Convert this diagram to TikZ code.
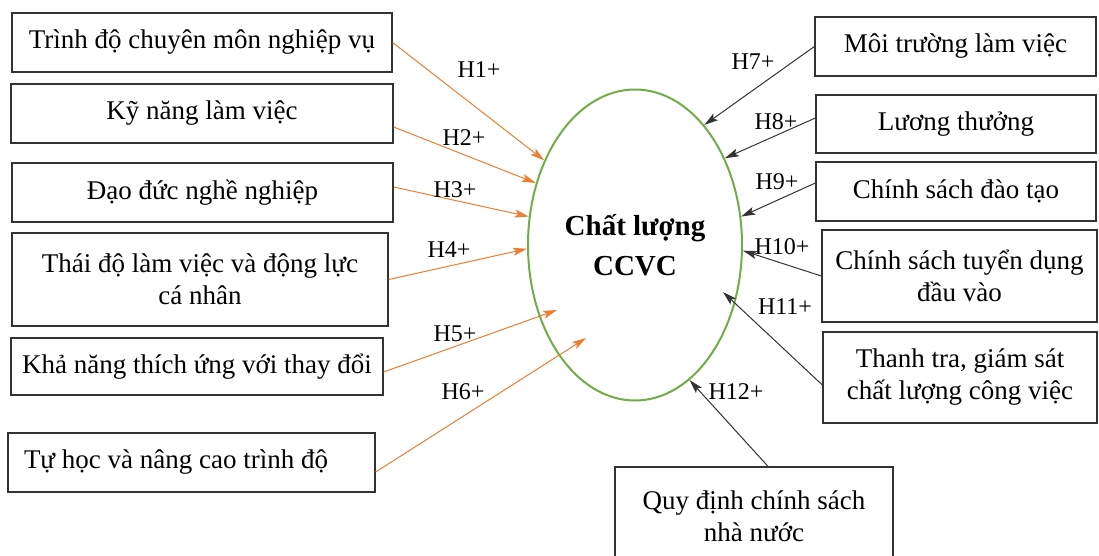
\documentclass[tikz,border=0pt]{standalone}
\usepackage{fontspec}
\setmainfont{Liberation Serif}
\usetikzlibrary{calc,positioning,arrows.meta,shapes.geometric}
\definecolor{lineorange}{HTML}{ED7D31}
\definecolor{ellgreen}{HTML}{70AD47}

\begin{document}
\begin{tikzpicture}
          [ x=1pt, y=-1pt,
            factor/.style={
              rectangle,
              draw=black!80,
              line width=1.3pt,
              inner sep=0pt,
              align=center,
              font=\fontsize{27}{32}\selectfont},
            quality/.style={
              ellipse,
              draw=ellgreen,
              line width=2pt,
              minimum width=214pt,
              minimum height=311pt,
              align=center,
              font=\fontsize{29}{40}\selectfont\bfseries},
            hyp/.style={
              inner sep=0pt,
              font=\fontsize{24}{28}\selectfont},
            line/.style={
              draw,
              line width=1pt,
              -{Stealth[length=14pt,width=8pt,inset=3pt]},
            },
          ]

          \useasboundingbox (0,0) rectangle (1099,555);

          \node (ccvc) [quality] at (635,245) {Chất lượng\\CCVC};

          \node (trinhdo) [factor, minimum width=380pt, minimum height=59pt] at (202,42.5) {Trình độ chuyên môn nghiệp vụ};
          \node (kynang) [factor, minimum width=382pt, minimum height=59pt] at (202,113.5) {Kỹ năng làm việc};
          \node (daoduc) [factor, minimum width=381pt, minimum height=59pt] at (202.5,192.5) {Đạo đức nghề nghiệp};
          \node (thaido) [factor, minimum width=376pt, minimum height=93pt] at (200,279.5) {Thái độ làm việc và động lực\\cá nhân};
          \node (thichung) [factor, minimum width=372pt, minimum height=57pt] at (197,366.5) {Khả năng thích ứng với thay đổi};
          \node (tuhoc) [factor, text width=335pt, inner xsep=16pt, align=flush left, minimum height=59pt] at (191.5,462.5) {Tự học và nâng cao trình độ};

          \node (moitruong) [factor, minimum width=281pt, minimum height=59pt] at (955.5,46.5) {Môi trường làm việc};
          \node (luong) [factor, minimum width=280pt, minimum height=58pt] at (956,124) {Lương thưởng};
          \node (daotao) [factor, minimum width=280pt, minimum height=59pt] at (956,191.5) {Chính sách đào tạo};
          \node (tuyendung) [factor, minimum width=275pt, minimum height=92pt] at (959.5,276) {Chính sách tuyển dụng\\đầu vào};
          \node (thanhtra) [factor, minimum width=274pt, minimum height=91pt] at (960,377.5) {Thanh tra, giám sát\\chất lượng công việc};
          \node (quydinh) [factor, minimum width=278pt, minimum height=98pt] at (754,516) {Quy định chính sách\\nhà nước};

          \coordinate (h5tip) at (557,310);
          \coordinate (h6tip) at (586,338);
          \coordinate (h11tip) at (723,292);

          \draw[line,lineorange] (trinhdo.east) -- (ccvc.137);
          \draw[line,lineorange] ([yshift=-13.5pt]kynang.east) -- (ccvc.148);
          \draw[line,lineorange] ([yshift=5.5pt]daoduc.east) -- (ccvc.165);
          \draw[line,lineorange] (thaido.east) -- (ccvc.182);
          \draw[line,lineorange] ([yshift=-5.5pt]thichung.east) -- (h5tip);
          \draw[line,lineorange] ([yshift=-9.5pt]tuhoc.east) -- (h6tip);

          \draw[line,black!80] (moitruong.west) -- (ccvc.60);
          \draw[line,black!80] ([yshift=6pt]luong.west) -- (ccvc.44);
          \draw[line,black!80] ([yshift=8.5pt]daotao.west) -- (ccvc.15);
          \draw[line,black!80] (tuyendung.west) -- (ccvc.-3);
          \draw[line,black!80] ([yshift=-7.5pt]thanhtra.west) -- (h11tip);
          \draw[line,black!80] ([xshift=14pt]quydinh.north) -- (ccvc.-68);

          \node (h1) [hyp] at (479,70) {H1+};
          \node (h2) [hyp] at (464,138) {H2+};
          \node (h3) [hyp] at (455,190) {H3+};
          \node (h4) [hyp] at (449,250) {H4+};
          \node (h5) [hyp] at (455,334) {H5+};
          \node (h6) [hyp] at (463,392) {H6+};
          \node (h7) [hyp] at (753,62) {H7+};
          \node (h8) [hyp] at (776,122) {H8+};
          \node (h9) [hyp] at (777,182) {H9+};
          \node (h10) [hyp] at (782,247) {H10+};
          \node (h11) [hyp] at (785,307) {H11+};
          \node (h12) [hyp] at (736,392) {H12+};

        \end{tikzpicture}
\end{document}
